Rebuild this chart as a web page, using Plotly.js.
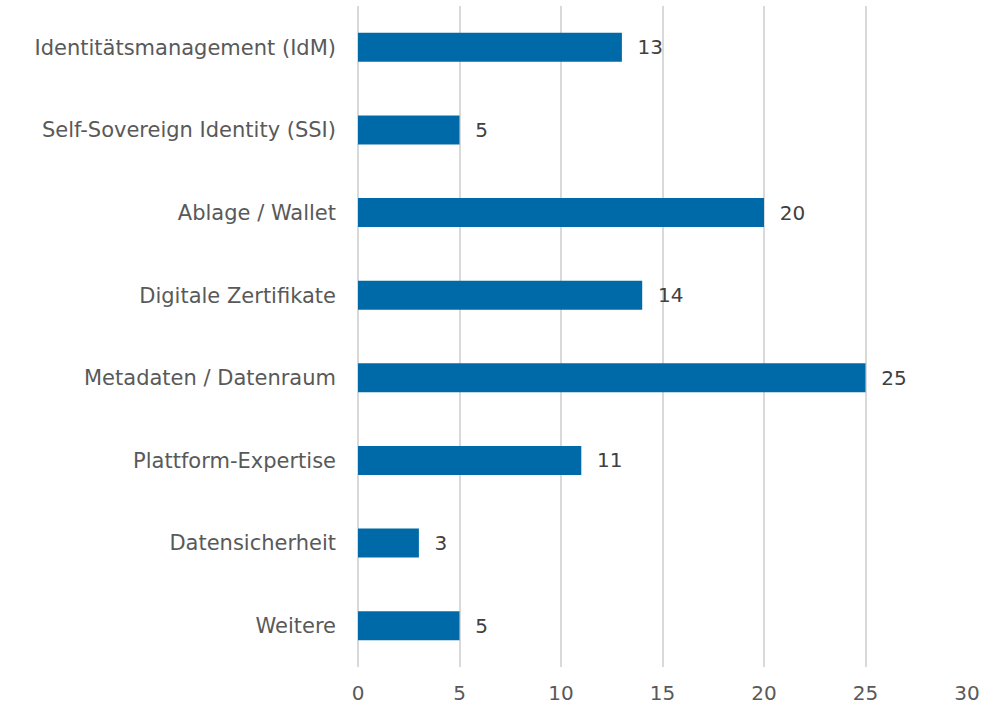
<!DOCTYPE html>
<html><head><meta charset="utf-8">
<script src="https://cdn.plot.ly/plotly-3.0.1.min.js"></script>
<style>html,body{margin:0;padding:0;background:#fff}#c{width:1004px;height:708px}</style>
</head><body><div id="c"></div>
<script>
const categories = ["Identitätsmanagement (IdM)","Self-Sovereign Identity (SSI)","Ablage / Wallet","Digitale Zertifikate","Metadaten / Datenraum","Plattform-Expertise","Datensicherheit","Weitere"];
const values = [13,5,20,14,25,11,3,5];
const xTicks = [0,5,10,15,20,25,30];
const FONT = 'DejaVu Sans, sans-serif';

Plotly.newPlot('c',[{
  type:'bar', orientation:'h', x:values, y:categories,
  width:0.35, marker:{color:'#006aa8'},
  text:values.map(v=>'\u00a0\u00a0'+v), textposition:'outside', cliponaxis:false,
  textfont:{size:20,color:'#404040',family:FONT},
  hoverinfo:'none'
}],{
  width:1004,height:708,
  margin:{l:358,r:37,t:6,b:41,pad:0},
  paper_bgcolor:'#fff',plot_bgcolor:'#fff',
  font:{family:FONT,size:20,color:'#595959'},
  showlegend:false,
  xaxis:{range:[0,30],tickvals:xTicks,ticktext:xTicks.map(String),showgrid:true,gridcolor:'#d9d9d9',gridwidth:2,
    zeroline:true,zerolinecolor:'#d9d9d9',zerolinewidth:2,showline:false,ticks:'',ticklabelstandoff:12,
    tickfont:{size:20,color:'#595959',family:FONT}},
  yaxis:{type:'category',autorange:'reversed',showgrid:false,zeroline:false,showline:false,ticks:'',
    ticklabelstandoff:21,tickfont:{size:21,color:'#595959',family:FONT}}
},{displayModeBar:false,staticPlot:true});
</script></body></html>
